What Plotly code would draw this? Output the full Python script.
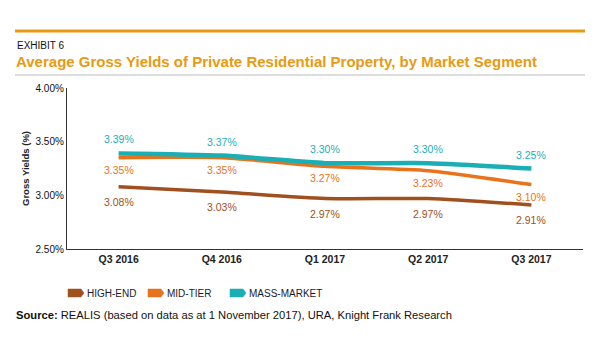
import plotly.graph_objects as go

quarters = ["Q3 2016", "Q4 2016", "Q1 2017", "Q2 2017", "Q3 2017"]
high_end = [3.08, 3.03, 2.97, 2.97, 2.91]
mid_tier = [3.35, 3.35, 3.27, 3.23, 3.10]
mass_market = [3.39, 3.37, 3.30, 3.30, 3.25]
y_ticks = [2.5, 3.0, 3.5, 4.0]
y_tick_labels = ["2.50%", "3.00%", "3.50%", "4.00%"]

C_HIGH = "#A0501E"
C_MID = "#E8731C"
C_MASS = "#1AAFB5"
C_TITLE = "#E89A12"
FONT = "Liberation Sans, Arial, sans-serif"

L, R, T, B = 67, 17, 88, 111
PW, PH = 600 - L - R, 360 - T - B


def px(xpix):
    return (xpix - L) / PW


def py(ypix):
    return (360 - B - ypix) / PH


fig = go.Figure()
series = [
    ("HIGH-END", high_end, C_HIGH, 3.5, -15),
    ("MID-TIER", mid_tier, C_MID, 3.5, -12),
    ("MASS-MARKET", mass_market, C_MASS, 4.5, 14),
]
for name, vals, col, w, _ in series:
    fig.add_trace(go.Scatter(
        x=quarters, y=vals, name=name, mode="lines",
        showlegend=False,
        line=dict(color=col, width=w, shape="spline", smoothing=0.6),
        hoverinfo="skip",
    ))

annotations = []
for name, vals, col, w, shift in series:
    for q, v in zip(quarters, vals):
        annotations.append(dict(
            x=q, y=v, xref="x", yref="y", text=f"{v:.2f}%", showarrow=False,
            yshift=shift, font=dict(family=FONT, size=10.5, color=col),
        ))

annotations += [
    dict(x=px(15), y=py(45), xref="paper", yref="paper", xanchor="left", yanchor="middle",
         text="EXHIBIT 6", showarrow=False, font=dict(family=FONT, size=10, color="#111111")),
    dict(x=px(14), y=py(62), xref="paper", yref="paper", xanchor="left", yanchor="middle",
         text="<b>Average Gross Yields of Private Residential Property, by Market Segment</b>",
         showarrow=False, font=dict(family=FONT, size=15, color=C_TITLE)),
    dict(x=px(14), y=py(315), xref="paper", yref="paper", xanchor="left", yanchor="middle",
         text="<b>Source:</b> REALIS (based on data as at 1 November 2017), URA, Knight Frank Research",
         showarrow=False, font=dict(family=FONT, size=11.2, color="#111111")),
]

shapes = [
    dict(type="line", xref="paper", yref="paper", x0=px(15), x1=px(585),
         y0=py(31), y1=py(31), line=dict(color=C_TITLE, width=3)),
    dict(type="line", xref="paper", yref="paper", x0=px(15), x1=px(585),
         y0=py(75), y1=py(75), line=dict(color="#BBBBBB", width=1.2)),
]

# manual legend (swatches + labels)
legend_x = [68, 148, 230]
sw_w, sw_top, sw_bot = 16, 289, 297
for (name, vals, col, w, _), x0 in zip(series, legend_x):
    x1 = x0 + sw_w
    path = (f"M {px(x0)},{py(sw_top)} L {px(x1 - 3)},{py(sw_top)} "
            f"L {px(x1)},{py((sw_top + sw_bot) / 2)} L {px(x1 - 3)},{py(sw_bot)} "
            f"L {px(x0)},{py(sw_bot)} Z")
    shapes.append(dict(type="path", xref="paper", yref="paper", path=path,
                       fillcolor=col, line=dict(color=col, width=0.5)))
    annotations.append(dict(
        x=px(x1 + 1), y=py(293.5), xref="paper", yref="paper", xanchor="left",
        yanchor="middle", text=name, showarrow=False,
        font=dict(family=FONT, size=10, color="#1a1a2a")))

fig.update_layout(
    width=600, height=360,
    margin=dict(l=L, r=R, t=T, b=B, autoexpand=False),
    paper_bgcolor="white", plot_bgcolor="white",
    font=dict(family=FONT, size=10, color="#222222"),
    showlegend=False,
    xaxis=dict(
        showgrid=False, showline=True, linecolor="#333333", linewidth=1.2,
        ticks="", tickfont=dict(family=FONT, size=10.5, color="#222222", weight="bold"),
        range=[-0.5, 4.5], fixedrange=True, automargin=False,
    ),
    yaxis=dict(
        range=[2.5, 4.0], tickvals=y_ticks, ticktext=y_tick_labels,
        showgrid=False, showline=True, linecolor="#333333", linewidth=1.2,
        ticks="", zeroline=False, automargin=False,
        tickfont=dict(family=FONT, size=10, color="#111111"),
        title=dict(text="Gross Yields (%)", standoff=4,
                   font=dict(family=FONT, size=9.5, color="#222222", weight="bold")),
    ),
    annotations=annotations,
    shapes=shapes,
)

fig.write_html(
    "out.html",
    config={"displayModeBar": False},
    post_script="document.body.style.margin='0';document.body.style.padding='0';",
)
